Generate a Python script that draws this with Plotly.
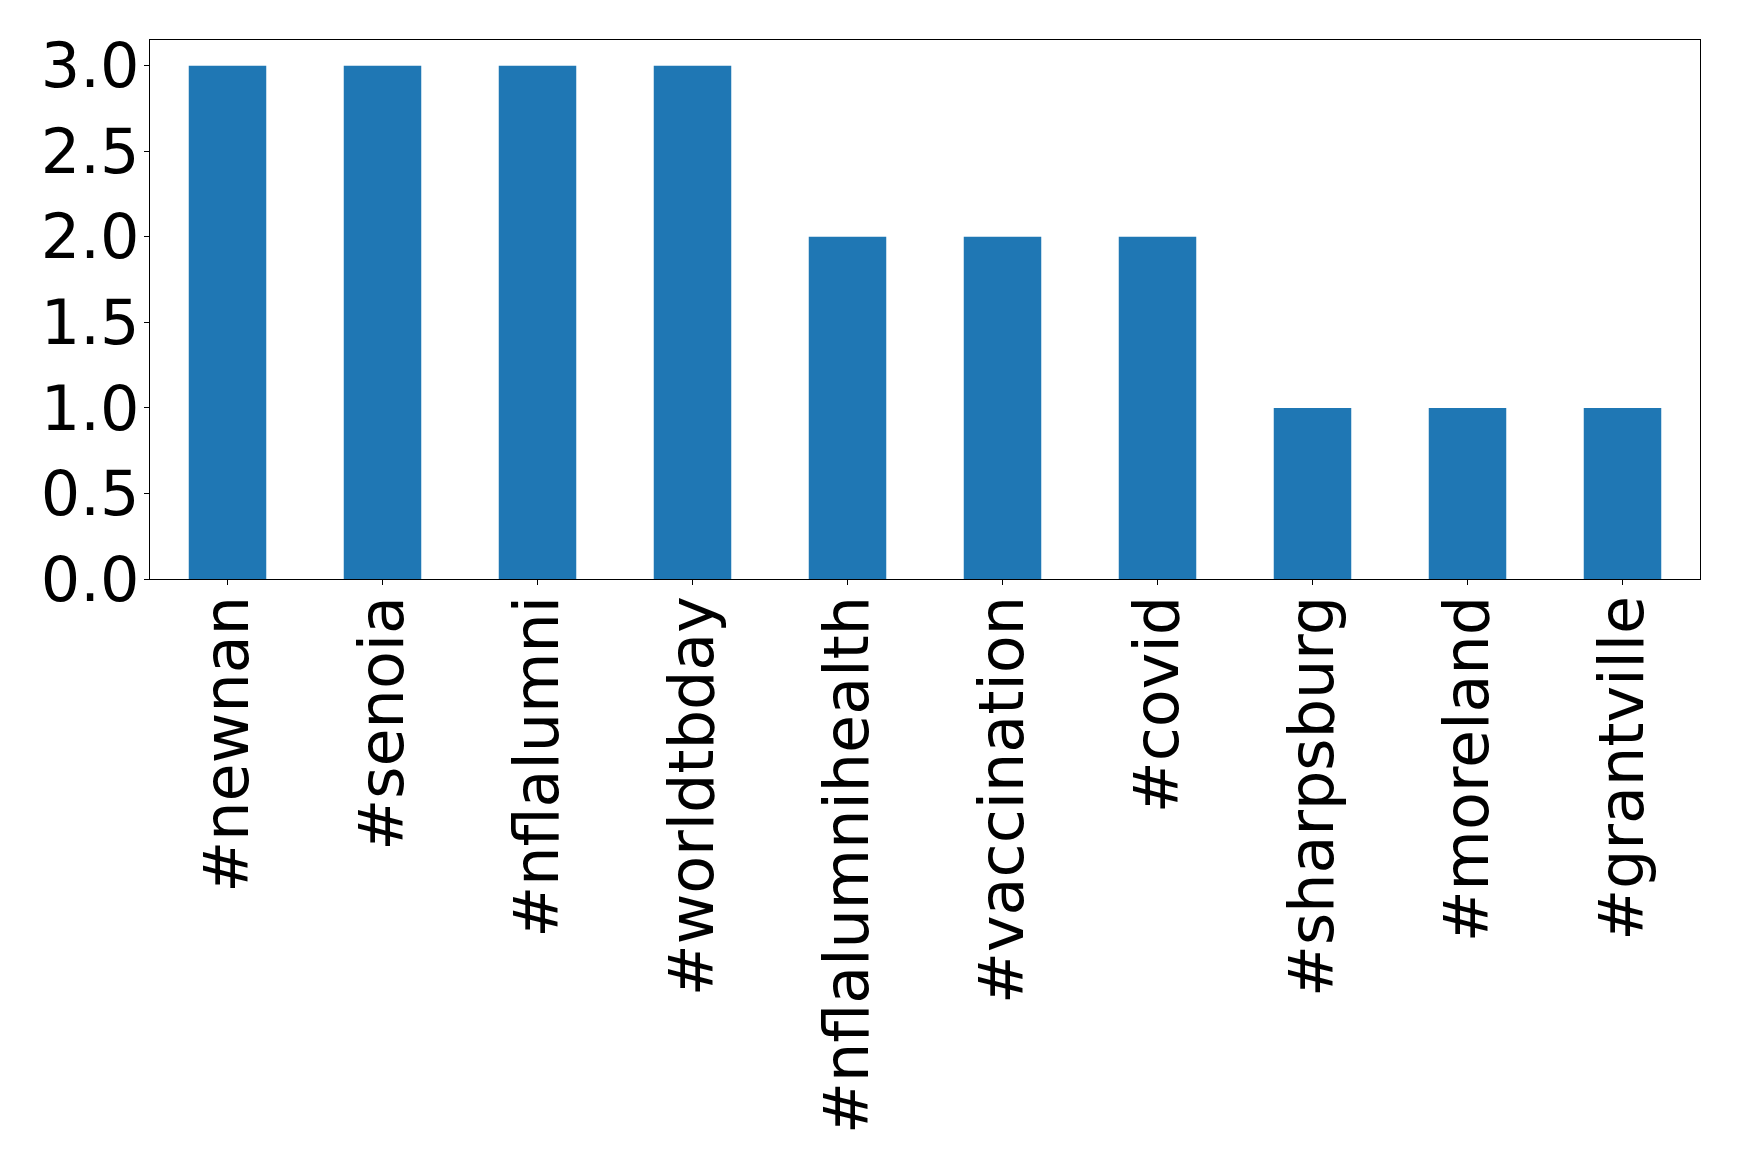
import plotly.graph_objects as go

categories = ["#newnan", "#senoia", "#nflalumni", "#worldtbday", "#nflalumnihealth",
              "#vaccination", "#covid", "#sharpsburg", "#moreland", "#grantville"]
counts = [3, 3, 3, 3, 2, 2, 2, 1, 1, 1]
y_ticks = [0.0, 0.5, 1.0, 1.5, 2.0, 2.5, 3.0]
y_tick_labels = ["0.0", "0.5", "1.0", "1.5", "2.0", "2.5", "3.0"]

fig = go.Figure(go.Bar(x=categories, y=counts, marker_color="#1f77b4",
                       marker_line_width=0, width=0.5))

font = dict(family="DejaVu Sans", size=62, color="black")
fig.update_layout(
    width=1731, height=1162,
    margin=dict(l=142, r=39, t=32, b=591, pad=0),
    plot_bgcolor="white", paper_bgcolor="white",
    showlegend=False,
    bargap=0.5,
)
fig.update_xaxes(
    type="category", range=[-0.5, 9.5], tickangle=-90, tickfont=font,
    showline=True, linecolor="black", linewidth=1.3, mirror=True,
    ticks="outside", ticklen=5, tickcolor="black", showgrid=False,
    ticklabelstandoff=-14,
)
fig.update_yaxes(
    range=[0, 3.15], tickvals=y_ticks, ticktext=y_tick_labels, tickfont=font,
    showline=True, linecolor="black", linewidth=1.3, mirror=True,
    ticks="outside", ticklen=5, tickcolor="black", showgrid=False, zeroline=False,
    ticklabelstandoff=-8,
)
fig.write_html("out.html")
